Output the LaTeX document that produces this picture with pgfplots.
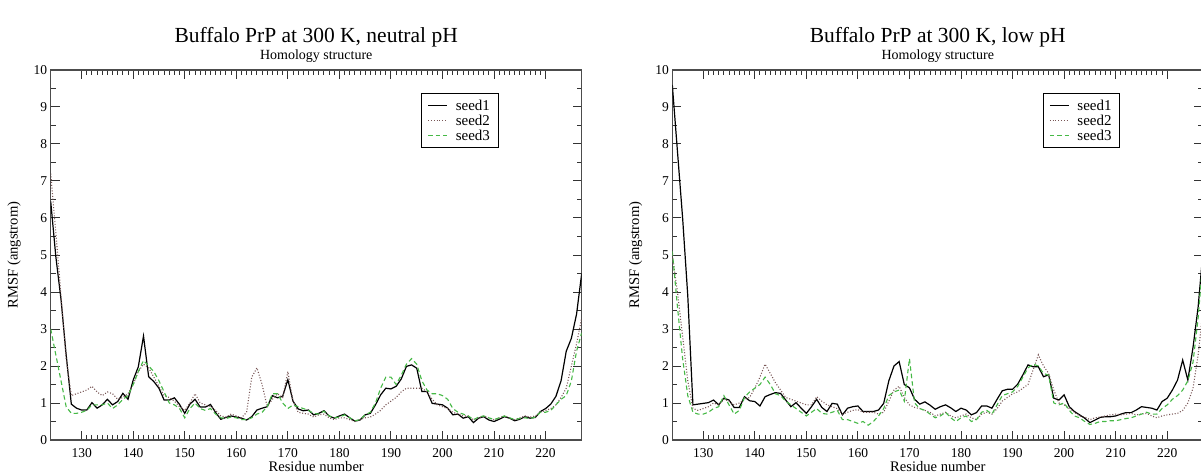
\documentclass[border=0pt]{standalone}
\usepackage{fontspec}
\setmainfont{Liberation Serif}
\usepackage{pgfplots}
\usepackage{pgfplotstable}
\pgfplotsset{compat=1.18}

\definecolor{sdtwo}{RGB}{120,85,85}
\definecolor{sdthree}{RGB}{70,185,70}

% residue, seed1, seed2, seed3 -- neutral pH
\pgfplotstableread{
r s1 s2 s3
124 6.45 7.2 3.0
125 4.95 5.6 2.3
126 3.8 3.9 1.6
127 2.3 2.2 0.9
128 0.97 1.2 0.72
129 0.86 1.25 0.72
130 0.81 1.3 0.75
131 0.81 1.35 0.8
132 1.01 1.45 0.95
133 0.86 1.3 0.95
134 0.95 1.2 0.95
135 1.10 1.3 1.0
136 0.95 1.25 0.85
137 1.04 1.1 0.95
138 1.26 1.15 1.1
139 1.10 1.25 1.2
140 1.62 1.5 1.5
141 1.98 1.85 1.85
142 2.81 2.05 2.15
143 1.71 1.95 2.0
144 1.58 1.7 1.85
145 1.40 1.45 1.6
146 1.08 1.2 1.3
147 1.08 1.15 1.0
148 1.14 1.05 0.95
149 0.96 0.9 0.85
150 0.72 0.8 0.6
151 0.97 1.0 0.85
152 1.10 1.25 1.0
153 0.89 1.0 0.85
154 0.89 0.95 0.8
155 0.96 0.9 0.85
156 0.74 0.8 0.7
157 0.56 0.65 0.6
158 0.61 0.62 0.58
159 0.65 0.7 0.62
160 0.62 0.65 0.6
161 0.59 0.6 0.55
162 0.54 0.75 0.55
163 0.63 1.7 0.6
164 0.81 1.95 0.7
165 0.86 1.5 0.75
166 0.90 0.9 0.9
167 1.20 1.1 1.25
168 1.14 1.25 1.25
169 1.18 1.15 1.0
170 1.63 1.85 0.85
171 1.05 1.05 0.95
172 0.84 0.75 0.9
173 0.79 0.72 0.85
174 0.81 0.7 0.8
175 0.68 0.62 0.72
176 0.72 0.68 0.7
177 0.79 0.7 0.78
178 0.65 0.6 0.65
179 0.59 0.55 0.6
180 0.65 0.6 0.62
181 0.70 0.6 0.68
182 0.60 0.55 0.6
183 0.51 0.5 0.52
184 0.54 0.55 0.55
185 0.68 0.6 0.68
186 0.72 0.62 0.75
187 0.95 0.7 1.0
188 1.22 0.8 1.4
189 1.40 0.95 1.7
190 1.38 1.05 1.7
191 1.45 1.15 1.5
192 1.65 1.3 1.75
193 1.99 1.4 2.05
194 2.03 1.4 2.2
195 1.94 1.4 2.05
196 1.31 1.4 1.6
197 1.31 1.3 1.35
198 0.99 1.1 1.25
199 0.97 0.95 1.25
200 0.95 0.9 1.2
201 0.86 0.85 1.1
202 0.68 0.75 0.85
203 0.70 0.7 0.75
204 0.59 0.65 0.7
205 0.63 0.65 0.65
206 0.47 0.55 0.55
207 0.59 0.6 0.62
208 0.63 0.65 0.65
209 0.54 0.6 0.6
210 0.50 0.55 0.55
211 0.56 0.6 0.6
212 0.63 0.65 0.65
213 0.59 0.6 0.6
214 0.52 0.55 0.55
215 0.56 0.6 0.58
216 0.63 0.65 0.6
217 0.59 0.62 0.58
218 0.61 0.65 0.62
219 0.77 0.75 0.75
220 0.85 0.8 0.75
221 0.97 0.85 0.8
222 1.18 0.95 0.95
223 1.6 1.15 1.1
224 2.4 1.4 1.2
225 2.75 2.0 1.6
226 3.4 2.6 2.4
227 4.5 3.3 2.9
}\neutral

% residue, seed1, seed2, seed3 -- low pH
\pgfplotstableread{
r s1 s2 s3
124 9.6 5.0 5.1
125 7.8 4.0 3.6
126 6.0 2.8 2.2
127 3.9 1.6 1.2
128 0.95 0.85 0.75
129 0.97 0.8 0.7
130 0.99 0.85 0.7
131 1.01 0.9 0.75
132 1.08 1.0 0.85
133 0.95 0.95 0.9
134 1.13 1.1 1.2
135 1.08 1.05 0.95
136 0.88 0.95 0.7
137 0.88 1.0 0.8
138 1.17 1.1 1.15
139 1.06 1.15 1.3
140 1.04 1.4 1.4
141 0.92 1.7 1.5
142 1.17 2.05 1.7
143 1.23 1.8 1.5
144 1.28 1.55 1.25
145 1.26 1.35 1.2
146 1.08 1.15 1.05
147 0.90 1.1 0.95
148 1.01 1.05 0.85
149 0.86 1.0 0.75
150 0.72 0.95 0.65
151 0.90 0.95 0.75
152 1.10 1.17 0.85
153 0.88 1.05 0.72
154 0.77 0.95 0.7
155 0.99 0.9 0.75
156 0.97 0.85 0.8
157 0.68 0.7 0.55
158 0.86 0.75 0.55
159 0.90 0.8 0.5
160 0.92 0.82 0.45
161 0.77 0.75 0.5
162 0.77 0.75 0.4
163 0.77 0.75 0.5
164 0.81 0.7 0.65
165 0.99 0.75 0.85
166 1.6 1.05 1.2
167 2.0 1.35 1.3
168 2.12 1.45 1.35
169 1.5 1.15 1.05
170 1.41 0.95 2.2
171 1.1 0.88 1.0
172 0.97 0.85 0.85
173 1.03 0.8 0.8
174 0.94 0.75 0.7
175 0.83 0.65 0.6
176 0.9 0.7 0.65
177 0.95 0.75 0.75
178 0.87 0.65 0.6
179 0.77 0.6 0.5
180 0.86 0.65 0.6
181 0.81 0.7 0.65
182 0.68 0.6 0.5
183 0.74 0.55 0.55
184 0.92 0.7 0.75
185 0.92 0.75 0.8
186 0.86 0.7 0.7
187 1.1 0.85 0.95
188 1.33 1.05 1.2
189 1.37 1.15 1.25
190 1.37 1.25 1.3
191 1.51 1.3 1.45
192 1.76 1.4 1.7
193 2.03 1.5 1.95
194 1.98 1.9 2.05
195 1.98 2.3 2.0
196 1.71 2.0 1.8
197 1.76 1.8 1.75
198 1.13 1.35 1.0
199 1.08 1.0 0.95
200 1.22 0.95 1.0
201 0.9 0.85 0.8
202 0.77 0.75 0.65
203 0.68 0.65 0.6
204 0.59 0.62 0.5
205 0.47 0.55 0.42
206 0.54 0.6 0.45
207 0.61 0.62 0.5
208 0.63 0.65 0.5
209 0.63 0.68 0.52
210 0.65 0.7 0.52
211 0.7 0.68 0.55
212 0.74 0.7 0.58
213 0.74 0.72 0.6
214 0.81 0.68 0.65
215 0.9 0.7 0.7
216 0.88 0.72 0.75
217 0.86 0.65 0.7
218 0.81 0.6 0.7
219 1.04 0.65 0.85
220 1.13 0.68 0.95
221 1.35 0.7 1.1
222 1.62 0.72 1.2
223 2.16 0.8 1.35
224 1.62 1.0 1.6
225 2.5 1.4 2.1
226 3.6 2.3 3.3
227 5.2 3.6 5.0
}\lowph

\pgfplotsset{
  rmsf/.style={
    scale only axis, width=531pt, height=370pt,
    anchor=south west,
    xmin=124, xmax=227, ymin=0, ymax=10,
    xtick={130,140,...,220}, minor x tick num=9,
    ytick={0,1,...,10}, minor y tick num=1,
    tick align=inside, major tick length=9pt, minor tick length=5pt,
    axis line style={line width=1.2pt, black!70},
    every tick/.style={black!80, line width=1pt},
    /pgf/number format/assume math mode=true,
    tick label style={font=\fontsize{13.5}{13.5}\selectfont},
    xticklabel style={yshift=-4.5pt},
    xlabel={Residue number}, ylabel={RMSF (angstrom)},
    every axis x label/.style={at={(rel axis cs:0.5,-0.0703)}, anchor=center, font=\fontsize{14.6}{15}\selectfont},
    every axis y label/.style={at={(rel axis cs:-0.069,0.5)}, rotate=90, anchor=center, font=\fontsize{14.6}{15}\selectfont},
    legend image code/.code={\draw[##1] (0pt,0pt) -- (19pt,0pt);},
    legend style={at={(0.843,0.938)}, anchor=north east, draw=black, line width=0.7pt,
      font=\fontsize{15}{15}\selectfont, cells={anchor=west}, row sep=0pt,
      column sep=6pt, inner xsep=6pt, inner ysep=4.5pt,
      nodes={text height=10pt, text depth=0pt, inner ysep=2.5pt, inner xsep=2pt}},
    legend cell align=left,
  },
  s1/.style={black, line width=1.2pt},
  s2/.style={sdtwo, line width=1.1pt, dash pattern=on 1pt off 1.8pt},
  s3/.style={sdthree, line width=1.1pt, dash pattern=on 4.5pt off 3pt},
}

\begin{document}
\begin{tikzpicture}
\begin{axis}[rmsf, name=L, at={(50.7pt,34pt)}]
  \addplot[s1] table[x=r, y=s1] {\neutral};
  \addplot[s2] table[x=r, y=s2] {\neutral};
  \addplot[s3] table[x=r, y=s3] {\neutral};
  \legend{seed1, seed2, seed3}
\end{axis}
\node[font=\fontsize{21.5}{21.5}\selectfont] at ([yshift=33pt]L.north) {Buffalo PrP at 300 K, neutral pH};
\node[font=\fontsize{14}{14}\selectfont] at ([yshift=14pt]L.north) {Homology structure};

\begin{axis}[rmsf, name=R, at={(672.3pt,34pt)}]
  \addplot[s1] table[x=r, y=s1] {\lowph};
  \addplot[s2] table[x=r, y=s2] {\lowph};
  \addplot[s3] table[x=r, y=s3] {\lowph};
  \legend{seed1, seed2, seed3}
\end{axis}
\node[font=\fontsize{21.5}{21.5}\selectfont] at ([yshift=33pt]R.north) {Buffalo PrP at 300 K, low pH};
\node[font=\fontsize{14}{14}\selectfont] at ([yshift=14pt]R.north) {Homology structure};

\pgfresetboundingbox
\useasboundingbox (0pt,0pt) rectangle (1201pt,474pt);
\end{tikzpicture}
\end{document}
